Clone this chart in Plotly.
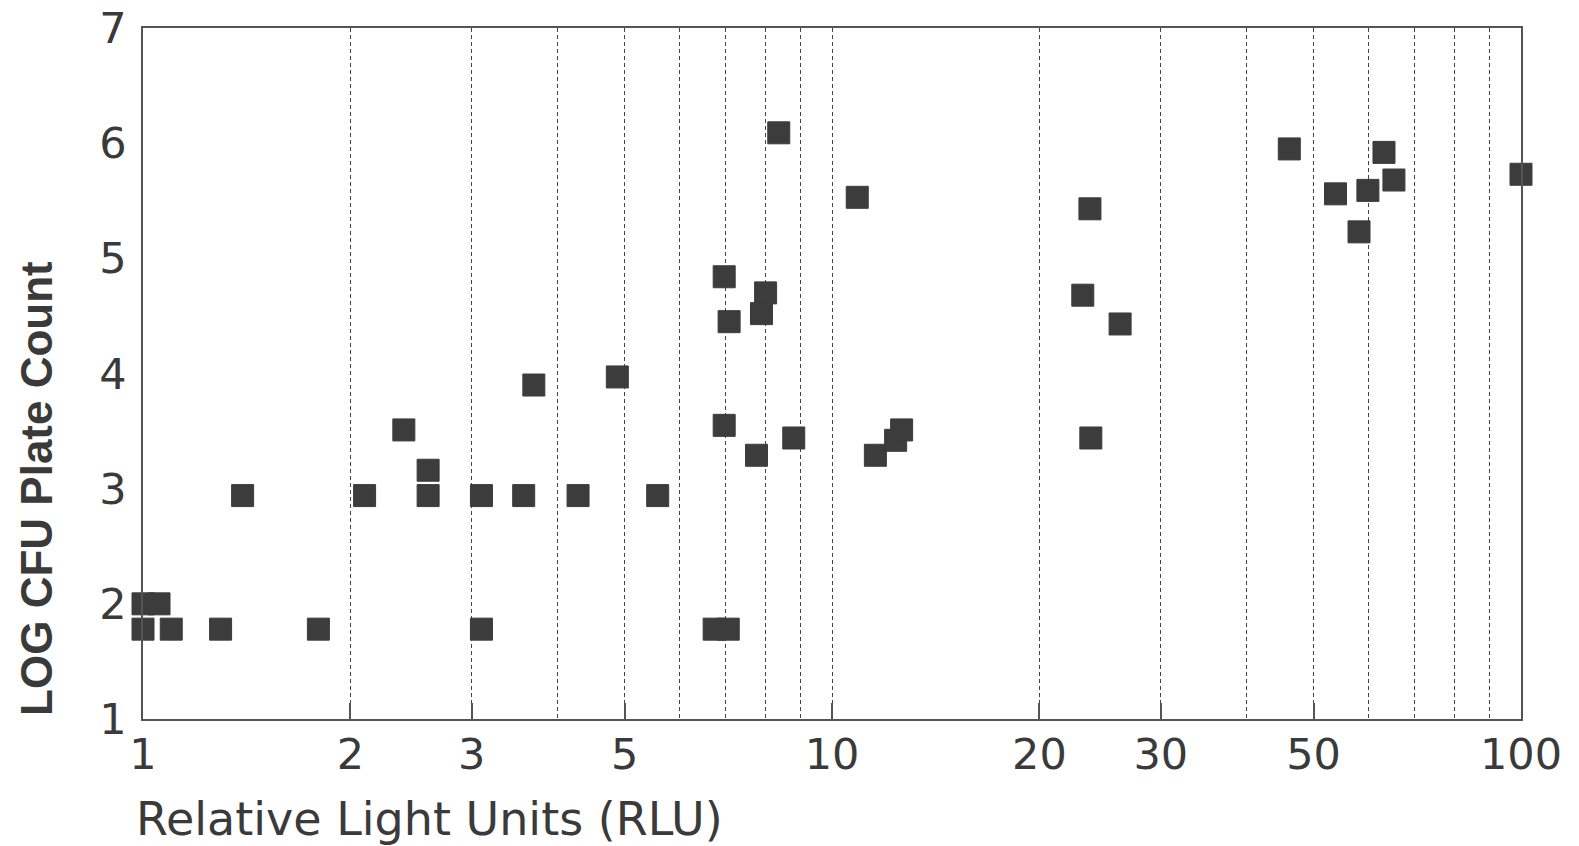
import plotly.graph_objects as go

# Relative Light Units (x) and LOG CFU plate count (y)
rlu = [1.0, 1.055, 1.0, 1.099, 1.296, 1.797,
       1.395, 2.097, 2.593, 3.099, 3.569, 4.28, 5.585, 3.099,
       2.391, 2.593, 3.692, 4.88,
       6.745, 7.07, 6.975, 7.09, 8.01, 7.90, 6.975, 7.77, 8.80, 8.37,
       10.88, 11.56, 12.37, 12.62,
       23.12, 23.68, 23.75, 26.19,
       46.1, 53.8, 58.2, 59.95, 63.26, 65.4, 100.0]
log_cfu = [2.0, 2.0, 1.78, 1.78, 1.78, 1.78,
           2.94, 2.94, 2.94, 2.94, 2.94, 2.94, 2.94, 1.78,
           3.51, 3.16, 3.90, 3.97,
           1.78, 1.78, 4.84, 4.45, 4.70, 4.52, 3.55, 3.29, 3.44, 6.09,
           5.53, 3.29, 3.42, 3.51,
           4.68, 5.43, 3.44, 4.43,
           5.95, 5.56, 5.23, 5.59, 5.92, 5.68, 5.73]

x_major = [1, 2, 3, 5, 10, 20, 30, 50, 100]
x_major_text = ["1", "2", "3", "5", "10", "20", "30", "50", "100"]
x_minor = [4, 6, 7, 8, 9, 40, 60, 70, 80, 90]
y_ticks = [1, 2, 3, 4, 5, 6, 7]

x_title = "Relative Light Units (RLU)"
y_title = "LOG CFU Plate Count"

txt = "#3a3a3a"
tick_family = "DejaVu Sans, sans-serif"

fig = go.Figure(go.Scatter(
    x=rlu, y=log_cfu, mode="markers",
    marker=dict(symbol="square", size=22, color="#3c3c3c",
                line=dict(width=1, color="#3c3c3c")),
    cliponaxis=False, hoverinfo="x+y"))

fig.update_layout(
    width=1579, height=846,
    margin=dict(l=143, r=58, t=28, b=127),
    paper_bgcolor="white", plot_bgcolor="white",
    showlegend=False,
    font=dict(family=tick_family, color=txt, size=43),
    xaxis=dict(
        type="log", range=[0, 2], automargin=False,
        tickmode="array", tickvals=x_major, ticktext=x_major_text,
        ticks="inside", ticklen=16, tickwidth=1.5, tickcolor="#555",
        ticklabelstandoff=-3,
        showgrid=True, gridcolor="#444", gridwidth=1, griddash="4px,3px",
        minor=dict(tickmode="array", tickvals=x_minor, ticks="",
                   showgrid=True, gridcolor="#444", gridwidth=1,
                   griddash="4px,3px"),
        showline=True, linecolor="#555", linewidth=1.5, mirror=True,
        zeroline=False,
        tickfont=dict(family=tick_family, size=43, color=txt),
    ),
    yaxis=dict(
        range=[1, 7], tickmode="array", tickvals=y_ticks, automargin=False,
        ticks="", showgrid=False, zeroline=False,
        ticklabelstandoff=6,
        showline=True, linecolor="#555", linewidth=1.5, mirror=True,
        tickfont=dict(family=tick_family, size=43, color=txt),
    ),
    annotations=[
        dict(text=x_title, xref="paper", yref="paper",
             x=-0.0065, y=-0.145, xanchor="left", yanchor="middle",
             showarrow=False,
             font=dict(family=tick_family, size=46, color=txt)),
        dict(text="<b>" + y_title + "</b>", xref="paper", yref="paper",
             x=0, y=0.333, xanchor="center", yanchor="middle",
             xshift=-106, textangle=-90, showarrow=False,
             font=dict(family="Liberation Sans, Arial, sans-serif",
                       size=44, color=txt)),
    ],
)

fig.write_html("out.html", config={"displayModeBar": False},
               post_script="document.body.style.margin='0';"
                           "document.body.style.overflow='hidden';")
